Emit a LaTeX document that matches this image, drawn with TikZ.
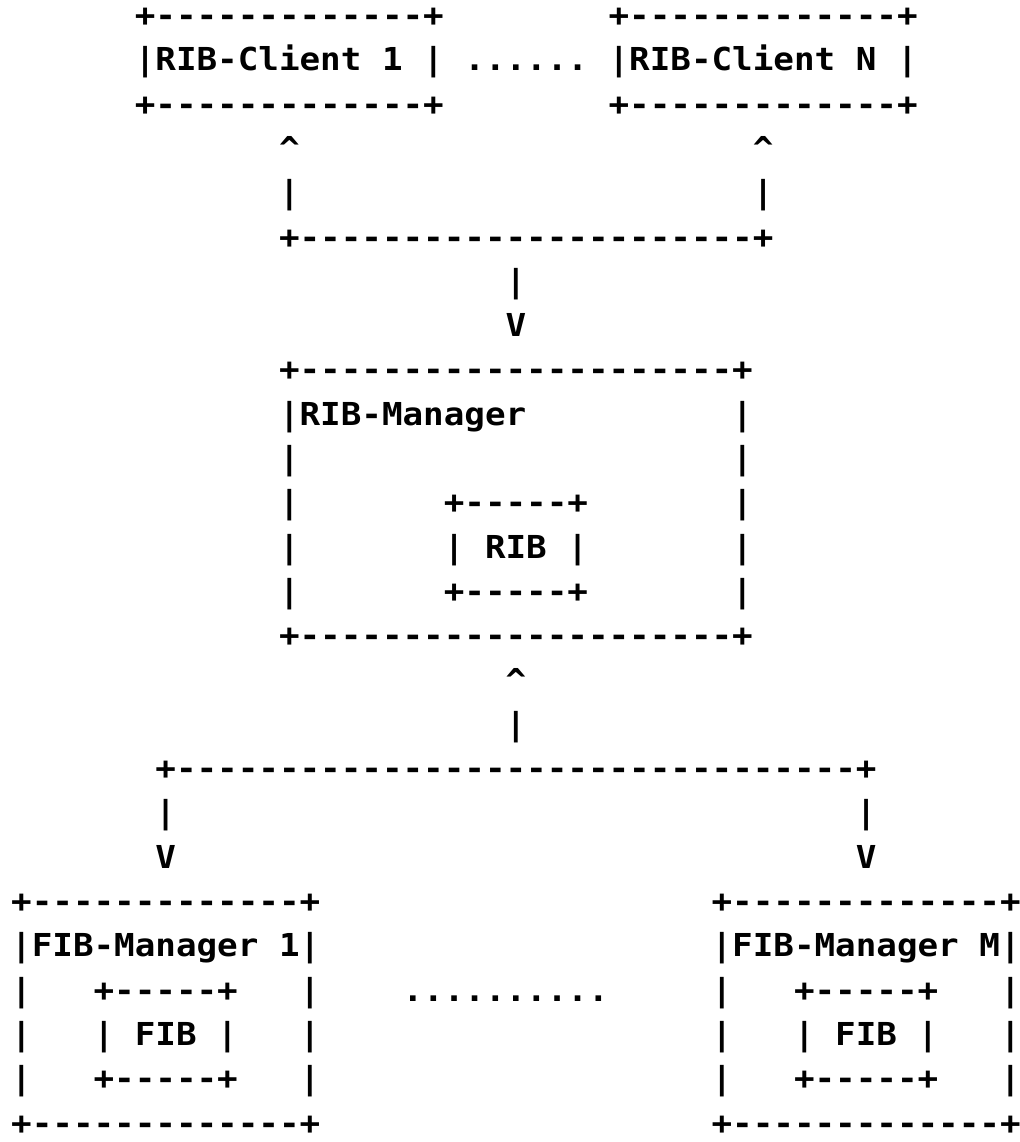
\documentclass[tikz,border=0pt]{standalone}
\usepackage{fontspec}
\newfontfamily\asciifont{DejaVu Sans Mono}[FakeStretch=1.083]
\newcommand\dashrun[1]{\foreach\k in {1,...,#1}{-}}
\begin{document}
\begin{tikzpicture}[x=10.3pt, y=-22.15pt,
  ch/.style={anchor=base west, inner sep=0pt, outer sep=0pt,
    font=\asciifont\bfseries\fontsize{15.8pt}{15.8pt}\selectfont}]
\fill[white] (0,0) rectangle (509.5pt,-571pt);
\useasboundingbox (0,0) rectangle (509.5pt,-571pt);
\begin{scope}[shift={(5.6pt,-13.25pt)}]
% RIB clients
\node[ch] (c1top) at (6,0) {+\dashrun{13}+};
\node[ch] (c1) at (6,1) {|RIB-Client 1 |};
\node[ch] (c1bot) at (6,2) {+\dashrun{13}+};
\node[ch] (cdots) at (22,1) {......};
\node[ch] (cNtop) at (29,0) {+\dashrun{13}+};
\node[ch] (cN) at (29,1) {|RIB-Client N |};
\node[ch] (cNbot) at (29,2) {+\dashrun{13}+};
% connector clients -> manager
\node[ch] (a1) at (13,3) {\textasciicircum};
\node[ch] (a2) at (36,3) {\textasciicircum};
\node[ch] (v1) at (13,4) {|};
\node[ch] (v2) at (36,4) {|};
\node[ch] (h1) at (13,5) {+\dashrun{22}+};
\node[ch] (v3) at (24,6) {|};
\node[ch] (d1) at (24,7) {V};
% RIB manager
\node[ch] (mtop) at (13,8) {+\dashrun{21}+};
\node[ch] (m1l) at (13,9) {|RIB-Manager};
\node[ch] (m1r) at (35,9) {|};
\node[ch] (m2l) at (13,10) {|};
\node[ch] (m2r) at (35,10) {|};
\node[ch] (m3l) at (13,11) {|};
\node[ch] (ribtop) at (21,11) {+\dashrun{5}+};
\node[ch] (m3r) at (35,11) {|};
\node[ch] (m4l) at (13,12) {|};
\node[ch] (rib) at (21,12) {| RIB |};
\node[ch] (m4r) at (35,12) {|};
\node[ch] (m5l) at (13,13) {|};
\node[ch] (ribbot) at (21,13) {+\dashrun{5}+};
\node[ch] (m5r) at (35,13) {|};
\node[ch] (mbot) at (13,14) {+\dashrun{21}+};
% connector manager -> FIB managers
\node[ch] (a3) at (24,15) {\textasciicircum};
\node[ch] (v4) at (24,16) {|};
\node[ch] (h2) at (7,17) {+\dashrun{33}+};
\node[ch] (v5) at (7,18) {|};
\node[ch] (v6) at (41,18) {|};
\node[ch] (d2) at (7,19) {V};
\node[ch] (d3) at (41,19) {V};
% FIB manager 1
\node[ch] (f1top) at (0,20) {+\dashrun{13}+};
\node[ch] (f1) at (0,21) {|FIB-Manager 1|};
\node[ch] (f1a) at (0,22) {|};
\node[ch] (fib1top) at (4,22) {+\dashrun{5}+};
\node[ch] (f1b) at (14,22) {|};
\node[ch] (f1c) at (0,23) {|};
\node[ch] (fib1) at (4,23) {| FIB |};
\node[ch] (f1d) at (14,23) {|};
\node[ch] (f1e) at (0,24) {|};
\node[ch] (fib1bot) at (4,24) {+\dashrun{5}+};
\node[ch] (f1f) at (14,24) {|};
\node[ch] (f1bot) at (0,25) {+\dashrun{13}+};
% dots
\node[ch] (fdots) at (19,22) {..........};
% FIB manager M
\node[ch] (fMtop) at (34,20) {+\dashrun{13}+};
\node[ch] (fM) at (34,21) {|FIB-Manager M|};
\node[ch] (fMa) at (34,22) {|};
\node[ch] (fibMtop) at (38,22) {+\dashrun{5}+};
\node[ch] (fMb) at (48,22) {|};
\node[ch] (fMc) at (34,23) {|};
\node[ch] (fibM) at (38,23) {| FIB |};
\node[ch] (fMd) at (48,23) {|};
\node[ch] (fMe) at (34,24) {|};
\node[ch] (fibMbot) at (38,24) {+\dashrun{5}+};
\node[ch] (fMf) at (48,24) {|};
\node[ch] (fMbot) at (34,25) {+\dashrun{13}+};
\end{scope}
\end{tikzpicture}
\end{document}
